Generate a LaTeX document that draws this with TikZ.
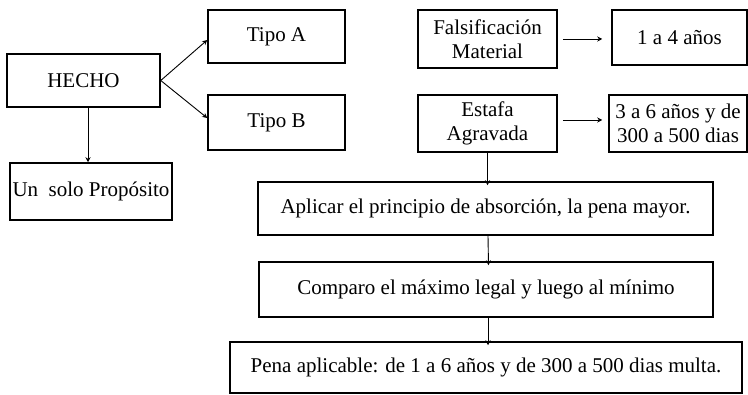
\documentclass[tikz,border=0pt]{standalone}
\usepackage{fontspec}
\setmainfont{Liberation Serif}
\usetikzlibrary{arrows.meta}
\begin{document}
\begin{tikzpicture}[x=1pt,y=-1pt,
  box/.style={draw=black,line width=1.5pt,rectangle,inner sep=0pt,align=center,font=\fontsize{21}{24}\selectfont},
  conn/.style={draw=black,line width=0.9pt,-{Stealth[length=5pt,width=5pt]}}]
\useasboundingbox (0,0) rectangle (748,395);
\node[box,minimum width=153,minimum height=53] (hecho) at (83.5,80.5) {HECHO};
\node[box,minimum width=137,minimum height=53] (tipoa) at (276.5,36.5) {Tipo A};
\node[box,minimum width=137,minimum height=55] (tipob) at (276.5,122.5) {Tipo B};
\node[box,minimum width=162,minimum height=57] (unsolo) at (91,191.5) {Un\ \ solo Propósito};
\node[box,minimum width=139,minimum height=58] (falsif) at (487.5,39) {Falsificación\\Material};
\node[box,minimum width=135,minimum height=55] (unoa) at (679.5,37.5) {1 a 4 años};
\node[box,minimum width=139,minimum height=57] (estafa) at (487.5,123.5) {Estafa\\Agravada};
\node[box,minimum width=138,minimum height=57] (tresa) at (678,123.5) {3 a 6 años y de\\300 a 500 dias};
\node[box,minimum width=455,minimum height=53] (aplicar) at (485.5,208.5) {Aplicar el principio de absorción, la pena mayor.};
\node[box,minimum width=454,minimum height=55] (comparo) at (486,289.5) {Comparo el máximo legal y luego al mínimo};
\node[box,minimum width=512,minimum height=51] (pena) at (486,367.5) {Pena aplicable: de 1 a 6 años y de 300 a 500 dias multa.};
\draw[conn] (hecho.east) -- ([yshift=-3.5]tipoa.west);
\draw[conn] (hecho.east) -- ([yshift=4.5]tipob.west);
\draw[conn] ([xshift=4.5]hecho.south) -- ([xshift=4.5]hecho.south |- unsolo.north);
\draw[conn] ([xshift=5]falsif.east) -- ([xshift=-9]falsif.east -| unoa.west);
\draw[conn] ([yshift=3.5,xshift=5]estafa.east) -- ([yshift=3.5,xshift=-6]estafa.east -| tresa.west);
\draw[conn] (estafa.south) -- ([yshift=-4]aplicar.north -| estafa.south);
\draw[conn] ([xshift=2.5]aplicar.south) -- ([xshift=2.5,yshift=-4]comparo.north);
\draw[conn] ([xshift=2]comparo.south) -- ([xshift=2,yshift=-4]pena.north);
\end{tikzpicture}
\end{document}
